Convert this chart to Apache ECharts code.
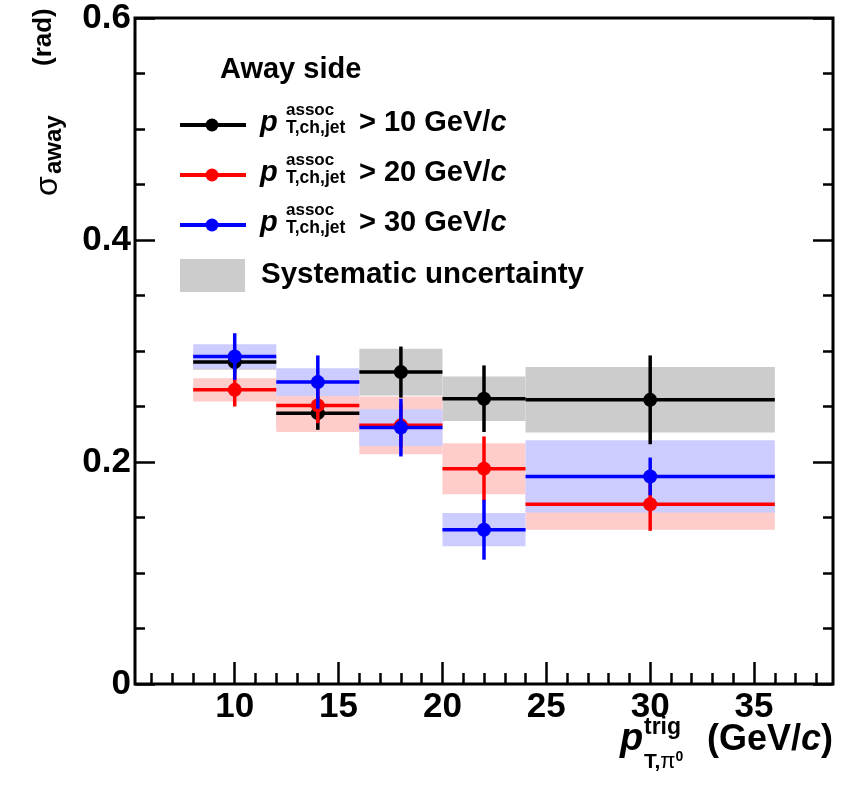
<!DOCTYPE html>
<html><head><meta charset="utf-8">
<script src="https://cdn.jsdelivr.net/npm/echarts@6/dist/echarts.min.js"></script>
<style>html,body{margin:0;padding:0;background:#fff}#c{width:846px;height:785px}</style>
</head><body><div id="c"></div>
<script>
// ---- data ----
const binLow = [8, 12, 16, 20, 24];
const binHigh = [12, 16, 20, 24, 36];
const binCenter = [10, 14, 18, 22, 30];

const black10 = [0.290, 0.244, 0.281, 0.257, 0.256];
const black10Stat = [0.010, 0.015, 0.023, 0.030, 0.040];
const black10Sys = [0.007, 0.012, 0.021, 0.020, 0.0295];

const red20 = [0.265, 0.251, 0.233, 0.194, 0.162];
const red20Stat = [0.015, 0.016, 0.020, 0.029, 0.024];
const red20Sys = [0.0105, 0.024, 0.026, 0.023, 0.023];

const blue30 = [0.295, 0.272, 0.231, 0.139, 0.187];
const blue30Stat = [0.021, 0.024, 0.026, 0.027, 0.017];
const blue30Sys = [0.011, 0.0125, 0.0165, 0.015, 0.0325];

const xTicks = [10, 15, 20, 25, 30, 35];
const xMinorTicks = [6, 7, 8, 9, 11, 12, 13, 14, 16, 17, 18, 19, 21, 22, 23, 24, 26, 27, 28, 29, 31, 32, 33, 34, 36, 37, 38];
const yTickLabels = {0: '0', 0.2: '0.2', 0.4: '0.4', 0.6: '0.6'};

const seriesNames = ['> 10 GeV/', '> 20 GeV/', '> 30 GeV/'];

// ---- build ----
const F = '"Liberation Sans", Arial, Helvetica, sans-serif';
const COLORS = ['#000000', '#ff0000', '#0000ff'];
const BOXCOLORS = ['#cccccc', '#ffcccc', '#ccccff'];
const vals = [black10, red20, blue30];
const stats = [black10Stat, red20Stat, blue30Stat];
const syss = [black10Sys, red20Sys, blue30Sys];

function boxItem(color) {
  return function (params, api) {
    const x0 = api.value(0), x1 = api.value(1), v = api.value(2), e = api.value(3);
    const p0 = api.coord([x0, v + e]), p1 = api.coord([x1, v - e]);
    return {type: 'rect', shape: {x: p0[0], y: p0[1], width: p1[0] - p0[0], height: p1[1] - p0[1]},
            style: {fill: color}};
  };
}
function errItem(color) {
  return function (params, api) {
    const x0 = api.value(0), x1 = api.value(1), xc = api.value(2), v = api.value(3), e = api.value(4);
    const a = api.coord([x0, v]), b = api.coord([x1, v]);
    const c = api.coord([xc, v + e]), d = api.coord([xc, v - e]), m = api.coord([xc, v]);
    return {type: 'group', children: [
      {type: 'line', shape: {x1: a[0], y1: a[1], x2: b[0], y2: b[1]}, style: {stroke: color, lineWidth: 3.5}},
      {type: 'line', shape: {x1: c[0], y1: c[1], x2: d[0], y2: d[1]}, style: {stroke: color, lineWidth: 3.5}},
      {type: 'circle', shape: {cx: m[0], cy: m[1], r: 7}, style: {fill: color}}
    ]};
  };
}

const series = [];
for (let s = 0; s < 3; s++) {
  series.push({
    type: 'custom', renderItem: boxItem(BOXCOLORS[s]), xAxisIndex: 0, yAxisIndex: 0, z: 2,
    encode: {x: [0, 1], y: [2]},
    data: binLow.map((l, i) => [l, binHigh[i], vals[s][i], syss[s][i]])
  });
}
for (let s = 0; s < 3; s++) {
  series.push({
    type: 'custom', renderItem: errItem(COLORS[s]), xAxisIndex: 0, yAxisIndex: 0, z: 3,
    encode: {x: [0, 1, 2], y: [3]},
    data: binLow.map((l, i) => [l, binHigh[i], binCenter[i], vals[s][i], stats[s][i]])
  });
}

// text helpers: place text by its alphabetic baseline
const ctx = document.createElement('canvas').getContext('2d');
function fontStr(size, weight, style) { return (style || 'normal') + ' ' + (weight || 'bold') + ' ' + size + 'px ' + F; }
function tw(text, size, weight, style) { ctx.font = fontStr(size, weight, style); return ctx.measureText(text).width; }
function midOff(size, weight, style) {
  ctx.font = fontStr(size, weight, style); ctx.textBaseline = 'middle';
  const d = ctx.measureText('H').actualBoundingBoxDescent; ctx.textBaseline = 'alphabetic'; return d;
}
function T(text, x, baseline, size, opts) {
  opts = opts || {};
  const weight = opts.weight || 'bold', style = opts.style || 'normal';
  return {type: 'text', x: x, y: baseline - midOff(size, weight, style), z: 100,
    style: {text: text, fontFamily: F, fontSize: size, fontWeight: weight, fontStyle: style, fill: '#000',
            align: 'left', verticalAlign: 'middle'}};
}

const g = [];
g.push(T('Away side', 220, 78, 29));
const rowY = [125, 175, 225];
for (let s = 0; s < 3; s++) {
  const y = rowY[s];
  g.push({type: 'line', shape: {x1: 180, y1: y, x2: 246, y2: y}, style: {stroke: COLORS[s], lineWidth: 4}, z: 100});
  g.push({type: 'circle', shape: {cx: 212, cy: y, r: 6.5}, style: {fill: COLORS[s]}, z: 100});
  g.push(T('p', 260, y + 6, 29, {style: 'italic'}));
  g.push(T('assoc', 286, y - 10, 17));
  g.push(T('T,ch,jet', 286, y + 8, 17.5));
  g.push(T(seriesNames[s], 359, y + 6, 29));
  g.push(T('c', 359 + tw(seriesNames[s], 29), y + 6, 29, {style: 'italic'}));
}
g.push({type: 'rect', shape: {x: 180, y: 259, width: 65, height: 33}, style: {fill: '#cccccc'}, z: 100});
g.push(T('Systematic uncertainty', 261, 283, 29.5));

// x-axis title
const XS = 36;
const xEnd = 833;
const gevW = tw('(GeV/', XS), cW = tw('c', XS, 'bold', 'italic'), parW = tw(')', XS);
const gx = xEnd - parW - cW - gevW;
g.push(T('(GeV/', gx, 750, XS));
g.push(T('c', gx + gevW, 750, XS, {style: 'italic'}));
g.push(T(')', gx + gevW + cW, 750, XS));
g.push(T('p', 620, 750, 38, {style: 'italic'}));
g.push(T('trig', 644, 734, 23));
g.push(T('T,', 644, 768, 21));
const tcW = tw('T,', 21);
g.push(T('π', 644 + tcW, 768, 22, {weight: 'normal'}));
g.push(T('0', 644 + tcW + tw('π', 22, 'normal'), 761, 14));

// y-axis title (rotated; local y=0 is the baseline, which lands at screen x = group.x)
const yTitle = {type: 'group', x: 51, y: 196, rotation: Math.PI / 2, z: 100, children: [
  T('σ', 0, 6, 32, {weight: 'normal'}),
  T('away', 22, 10, 24),
  T('(rad)', 130, 0, 26)
]};
g.push(yTitle);

const option = {
  animation: false,
  backgroundColor: '#fff',
  grid: {left: 135, right: 13, top: 18, bottom: 101, show: true, borderColor: '#000', borderWidth: 3,
         backgroundColor: 'transparent', containLabel: false},
  xAxis: [
    {type: 'value', min: 5.2, max: 38.8, position: 'bottom',
     axisLine: {show: false}, splitLine: {show: false},
     axisTick: {show: true, inside: true, length: 22, customValues: xTicks, lineStyle: {color: '#000', width: 2.5}},
     axisLabel: {show: true, customValues: xTicks, fontFamily: F, fontSize: 35, fontWeight: 'bold', color: '#000', margin: 6}},
    {type: 'value', min: 5.2, max: 38.8, position: 'bottom',
     axisLine: {show: false}, splitLine: {show: false},
     axisTick: {show: true, inside: true, length: 11, customValues: xMinorTicks, lineStyle: {color: '#000', width: 2.5}},
     axisLabel: {show: false}}
  ],
  yAxis: [
    {type: 'value', min: 0, max: 0.6, interval: 0.2, position: 'left',
     axisLine: {show: false}, splitLine: {show: false},
     axisTick: {show: true, inside: true, length: 20, lineStyle: {color: '#000', width: 2.5}},
     minorTick: {show: true, splitNumber: 4, length: 10, lineStyle: {color: '#000', width: 2.5}},
     axisLabel: {fontFamily: F, fontSize: 35, fontWeight: 'bold', color: '#000', margin: 4,
                 formatter: v => yTickLabels[Math.round(v * 10) / 10]}},
    {type: 'value', min: 0, max: 0.6, interval: 0.2, position: 'right',
     axisLine: {show: false}, splitLine: {show: false},
     axisTick: {show: true, inside: true, length: 20, lineStyle: {color: '#000', width: 2.5}},
     minorTick: {show: true, splitNumber: 4, length: 10, lineStyle: {color: '#000', width: 2.5}},
     axisLabel: {show: false}}
  ],
  series: series,
  graphic: g
};

const chart = echarts.init(document.getElementById('c'));
chart.setOption(option);
</script>
</body></html>
